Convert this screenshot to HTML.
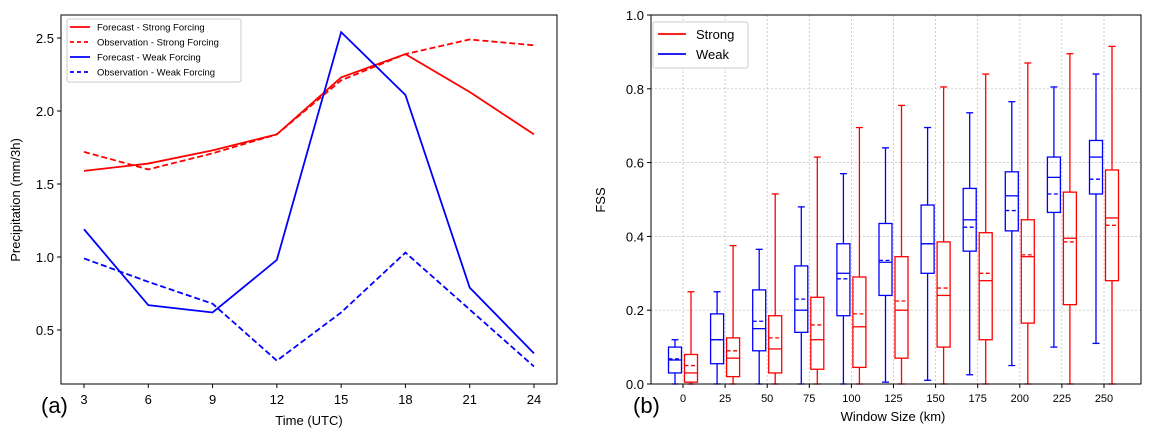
<!DOCTYPE html>
<html><head><meta charset="utf-8"><style>
body{margin:0;background:#fff;}
svg{display:block;font-family:"Liberation Sans","DejaVu Sans",sans-serif;}
</style></head><body>
<svg id="fig" width="1153" height="437" xmlns="http://www.w3.org/2000/svg"></svg>
<script>
// ---- Panel (a) data ----
const hours = [3,6,9,12,15,18,21,24];
const fcStrong = [1.59,1.64,1.73,1.84,2.23,2.39,2.13,1.84];
const obsStrong = [1.72,1.60,1.71,1.84,2.21,2.39,2.49,2.45];
const fcWeak = [1.19,0.67,0.62,0.98,2.54,2.11,0.79,0.34];
const obsWeak = [0.99,0.83,0.68,0.29,0.62,1.03,0.64,0.25];
const leftYTicks = [0.5,1.0,1.5,2.0,2.5];
const leftXTicks = [3,6,9,12,15,18,21,24];
// ---- Panel (b) data ----
const windows = [0,25,50,75,100,125,150,175,200,225,250];
const weakLo   = [0,0,0,0,0,0.005,0.01,0.025,0.05,0.1,0.11];
const weakQ1   = [0.03,0.055,0.09,0.14,0.185,0.24,0.30,0.36,0.415,0.465,0.515];
const weakMed  = [0.065,0.12,0.15,0.20,0.30,0.33,0.38,0.445,0.51,0.56,0.615];
const weakMean = [0.068,0.12,0.17,0.23,0.285,0.335,0.38,0.425,0.47,0.515,0.555];
const weakQ3   = [0.10,0.19,0.255,0.32,0.38,0.435,0.485,0.53,0.575,0.615,0.66];
const weakHi   = [0.12,0.25,0.365,0.48,0.57,0.64,0.695,0.735,0.765,0.805,0.84];
const strongLo   = [0,0,0,0,0,0,0,0,0,0,0];
const strongQ1   = [0.005,0.02,0.03,0.04,0.045,0.07,0.10,0.12,0.165,0.215,0.28];
const strongMed  = [0.03,0.07,0.095,0.12,0.155,0.20,0.24,0.28,0.345,0.395,0.45];
const strongMean = [0.05,0.09,0.125,0.16,0.19,0.225,0.26,0.30,0.35,0.385,0.43];
const strongQ3   = [0.08,0.125,0.185,0.235,0.29,0.345,0.385,0.41,0.445,0.52,0.58];
const strongHi   = [0.25,0.375,0.515,0.615,0.695,0.755,0.805,0.84,0.87,0.895,0.915];
const rightYTicks = [0,0.2,0.4,0.6,0.8,1.0];
const rightXTicks = [0,25,50,75,100,125,150,175,200,225,250];

const NS="http://www.w3.org/2000/svg";
const svg=document.getElementById('fig');
function mk(tag,attrs,parent){const e=document.createElementNS(NS,tag);for(const k in attrs)e.setAttribute(k,attrs[k]);(parent||svg).appendChild(e);return e;}
function txt(s,attrs,parent){const e=mk('text',attrs,parent);e.textContent=s;return e;}

// ---- Panel (a) ----
const ax1={l:61,r:557,t:15,b:384};
const xa=h=>84+(h-3)*(534-84)/21;
const ya=v=>330-(v-0.5)*146;
const gA=mk('g',{});


leftYTicks.forEach(v=>{mk('line',{x1:ax1.l-4,x2:ax1.l,y1:ya(v),y2:ya(v),stroke:'#000'},gA);
 const t=txt(v.toFixed(1),{x:ax1.l-7,y:ya(v)+5,'text-anchor':'end','font-size':13},gA);
 });
leftXTicks.forEach(h=>{mk('line',{x1:xa(h),x2:xa(h),y1:ax1.b,y2:ax1.b+4,stroke:'#000'},gA);
 const t=txt(String(h),{x:xa(h),y:ax1.b+20,'text-anchor':'middle','font-size':13},gA);
 });
function series(vals,color,dash,name){const p=mk('polyline',{points:vals.map((v,i)=>xa(hours[i])+','+ya(v)).join(' '),fill:'none',stroke:color,'stroke-width':1.8,'stroke-dasharray':dash||'none'},gA);
 }
series(fcStrong,'#f00','', 'forecast-strong-line');
series(obsStrong,'#f00','6,3','observation-strong-line');
series(fcWeak,'#00f','','forecast-weak-line');
series(obsWeak,'#00f','6,3','observation-weak-line');
mk('rect',{x:ax1.l,y:ax1.t,width:ax1.r-ax1.l,height:ax1.b-ax1.t,fill:'none',stroke:'#000'},gA);
const yt=txt('Precipitation (mm/3h)',{x:20,y:200,'text-anchor':'middle','font-size':13,transform:'rotate(-90 20 200)'},gA);

const xt=txt('Time (UTC)',{x:309,y:425,'text-anchor':'middle','font-size':13},gA);

const la=txt('(a)',{x:41,y:413,'font-size':22},gA);

// legend a
const lg=mk('g',{});

mk('rect',{x:67,y:19,width:174,height:63,fill:'#fff',stroke:'#ccc',rx:2},lg);
[['Forecast - Strong Forcing','#f00',''],['Observation - Strong Forcing','#f00','4,3'],['Forecast - Weak Forcing','#00f',''],['Observation - Weak Forcing','#00f','4,3']].forEach((e,i)=>{
 const y=27+i*15;
 mk('line',{x1:70,x2:90,y1:y,y2:y,stroke:e[1],'stroke-width':1.8,'stroke-dasharray':e[2]||'none'},lg);
 const t=txt(e[0],{x:97,y:y+3.5,'font-size':9.5},lg);
 });

// ---- Panel (b) ----
const ax2={l:651,r:1141,t:15,b:384};
const xb=w=>683+w*(1104-683)/250;
const yb=v=>384-v*369;
const gB=mk('g',{});

rightYTicks.forEach(v=>{ if(v>0&&v<1) mk('line',{x1:ax2.l,x2:ax2.r,y1:yb(v),y2:yb(v),stroke:'#bbb','stroke-width':0.7,'stroke-dasharray':'2,2'},gB);
 mk('line',{x1:ax2.l-4,x2:ax2.l,y1:yb(v),y2:yb(v),stroke:'#000'},gB);
 const t=txt(v.toFixed(1),{x:ax2.l-7,y:yb(v)+5,'text-anchor':'end','font-size':13},gB);
 });
rightXTicks.forEach(w=>{ mk('line',{x1:xb(w),x2:xb(w),y1:ax2.t,y2:ax2.b,stroke:'#bbb','stroke-width':0.7,'stroke-dasharray':'2,2'},gB);
 mk('line',{x1:xb(w),x2:xb(w),y1:ax2.b,y2:ax2.b+4,stroke:'#000'},gB);
 const t=txt(String(w),{x:xb(w),y:ax2.b+18,'text-anchor':'middle','font-size':11},gB);
 });
function box(cx,lo,q1,med,mean,q3,hi,color,name){
 const g=mk('g',{},gB);
 const hw=6.5,cw=3.5,s={stroke:color,'stroke-width':1.3,fill:'none'};
 mk('line',Object.assign({x1:cx,x2:cx,y1:yb(lo),y2:yb(q1)},s),g);
 mk('line',Object.assign({x1:cx,x2:cx,y1:yb(q3),y2:yb(hi)},s),g);
 mk('line',Object.assign({x1:cx-cw,x2:cx+cw,y1:yb(lo),y2:yb(lo)},s),g);
 mk('line',Object.assign({x1:cx-cw,x2:cx+cw,y1:yb(hi),y2:yb(hi)},s),g);
 mk('rect',Object.assign({x:cx-hw,y:yb(q3),width:2*hw,height:yb(q1)-yb(q3)},s),g);
 mk('line',Object.assign({x1:cx-hw,x2:cx+hw,y1:yb(med),y2:yb(med)},s),g);
 mk('line',Object.assign({x1:cx-hw,x2:cx+hw,y1:yb(mean),y2:yb(mean),'stroke-dasharray':'4,2.5'},s),g);
}
windows.forEach((w,i)=>{
 box(xb(w)-8,weakLo[i],weakQ1[i],weakMed[i],weakMean[i],weakQ3[i],weakHi[i],'#00f','box-weak-'+w);
 box(xb(w)+8,strongLo[i],strongQ1[i],strongMed[i],strongMean[i],strongQ3[i],strongHi[i],'#f00','box-strong-'+w);
});
mk('rect',{x:ax2.l,y:ax2.t,width:ax2.r-ax2.l,height:ax2.b-ax2.t,fill:'none',stroke:'#000'},gB);
const yt2=txt('FSS',{x:605,y:200,'text-anchor':'middle','font-size':13,transform:'rotate(-90 605 200)'},gB);

const xt2=txt('Window Size (km)',{x:893,y:421,'text-anchor':'middle','font-size':13},gB);

const lb=txt('(b)',{x:633,y:413,'font-size':22},gB);

const lg2=mk('g',{});

mk('rect',{x:653,y:22,width:95,height:46,fill:'#fff',stroke:'#ccc',rx:2},lg2);
[['Strong','#f00'],['Weak','#00f']].forEach((e,i)=>{const y=34+i*20;
 mk('line',{x1:658,x2:686,y1:y,y2:y,stroke:e[1],'stroke-width':1.8},lg2);
 const t=txt(e[0],{x:696,y:y+5,'font-size':13},lg2);
 });
</script>
</body></html>
